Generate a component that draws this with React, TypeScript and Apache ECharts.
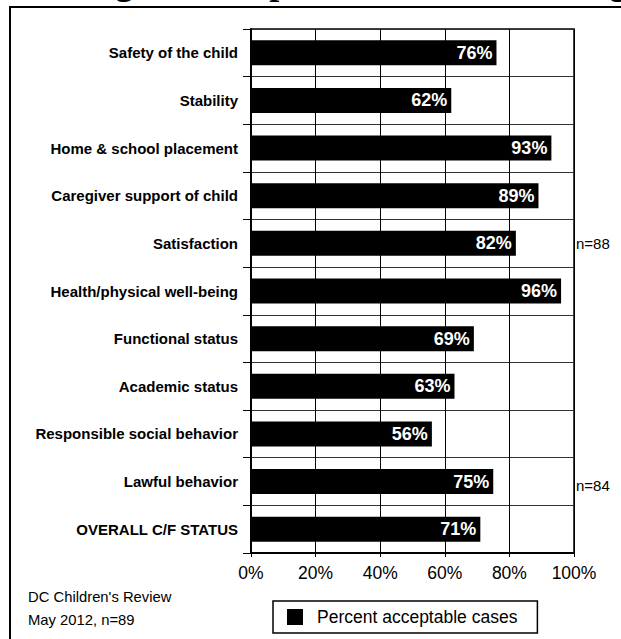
import React, { useEffect, useRef } from "react";
import * as echarts from "echarts";

const categories = [
  "Safety of the child",
  "Stability",
  "Home & school placement",
  "Caregiver support of child",
  "Satisfaction",
  "Health/physical well-being",
  "Functional status",
  "Academic status",
  "Responsible social behavior",
  "Lawful behavior",
  "OVERALL C/F STATUS",
];
const values = [76, 62, 93, 89, 82, 96, 69, 63, 56, 75, 71];
const seriesName = "Percent acceptable cases";
const noteCategories = ["Satisfaction", "Lawful behavior"];
const noteTexts = ["n=88", "n=84"];
const footerLines = ["DC Children's Review", "May 2012, n=89"];
const titleText = "Percentage of Acceptable Outcome Ratings";

const SANS = "'Liberation Sans', Arial, Helvetica, sans-serif";
const SERIF = "'Liberation Serif', 'Times New Roman', serif";

export default function App() {
  const ref = useRef<HTMLDivElement>(null);

  useEffect(() => {
    if (!ref.current) return;
    const chart = echarts.init(ref.current, null, { renderer: "svg" });
    chart.setOption({
      animation: false,
      backgroundColor: "#ffffff",
      grid: {
        left: 251,
        right: 47,
        top: 29,
        bottom: 86,
        show: true,
        borderColor: "#000",
        borderWidth: 1.5,
        containLabel: false,
      },
      legend: {
        show: true,
        left: 273,
        top: 601,
        orient: "horizontal",
        icon: "rect",
        itemWidth: 16,
        itemHeight: 16,
        borderColor: "#000",
        borderWidth: 1.5,
        padding: [7, 20, 7, 14],
        textStyle: {
          fontFamily: SANS,
          fontSize: 17.5,
          color: "#000",
          padding: [0, 0, 0, 9],
        },
        data: [seriesName],
      },
      xAxis: {
        type: "value",
        min: 0,
        max: 100,
        interval: 20,
        axisLine: { show: true, lineStyle: { color: "#000", width: 2 } },
        axisTick: { show: true, length: 4, lineStyle: { color: "#000", width: 1 } },
        axisLabel: {
          formatter: "{value}%",
          fontFamily: SANS,
          fontSize: 17.5,
          color: "#000",
          margin: 11,
        },
        splitLine: { show: true, lineStyle: { color: "#000", width: 1 } },
      },
      yAxis: {
        type: "category",
        data: categories,
        inverse: true,
        axisLine: { show: true, lineStyle: { color: "#000", width: 2 } },
        axisTick: {
          show: true,
          length: 8,
          interval: 0,
          lineStyle: { color: "#000", width: 1 },
        },
        axisLabel: {
          interval: 0,
          fontFamily: SANS,
          fontWeight: "bold",
          fontSize: 15,
          color: "#000",
          margin: 13,
        },
        splitLine: {
          show: true,
          interval: 0,
          lineStyle: { color: "#333", width: 1 },
        },
      },
      series: [
        {
          name: seriesName,
          type: "bar",
          data: values,
          barWidth: 25,
          itemStyle: { color: "#000" },
          label: {
            show: true,
            position: "insideRight",
            distance: 4,
            formatter: "{c}%",
            color: "#fff",
            fontFamily: SANS,
            fontWeight: "bold",
            fontSize: 18,
          },
        },
      ],
    });

    const xRight = chart.convertToPixel({ xAxisIndex: 0 }, 100) as number;
    const noteOffsets = [0, 4];
    const notes = noteCategories.map((c, i) => {
      const y = chart.convertToPixel({ yAxisIndex: 0 }, c) as number;
      return {
        type: "text",
        x: xRight + 2,
        y: y + noteOffsets[i],
        style: {
          text: noteTexts[i],
          fontFamily: SANS,
          fontSize: 15,
          fill: "#000",
          textAlign: "left",
          textVerticalAlign: "middle",
        },
      };
    });

    chart.setOption({
      graphic: [
        {
          type: "rect",
          silent: true,
          shape: { x: 10, y: 7, width: 700, height: 700 },
          style: { fill: "none", stroke: "#000", lineWidth: 2 },
        },
        {
          type: "text",
          x: -20,
          y: -18,
          style: {
            text: titleText,
            fontFamily: SERIF,
            fontWeight: "bold",
            fontSize: 36,
            fill: "#000",
            textAlign: "left",
            textVerticalAlign: "middle",
          },
        },
        ...footerLines.map((t, i) => ({
          type: "text",
          x: 28,
          y: 597 + i * 23,
          style: {
            text: t,
            fontFamily: SANS,
            fontSize: 14.8,
            fill: "#000",
            textAlign: "left",
            textVerticalAlign: "middle",
          },
        })),
        ...notes,
      ],
    });

    return () => chart.dispose();
  }, []);

  return (
    <div
      ref={ref}
      style={{ position: "fixed", left: 0, top: 0, width: 621, height: 639 }}
    />
  );
}
